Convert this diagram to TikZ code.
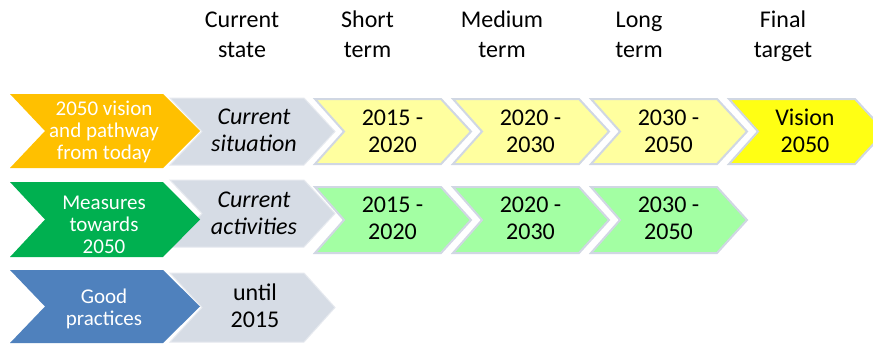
\documentclass[tikz,border=0pt]{standalone}
\usepackage{fontspec}
\setmainfont{Carlito}
\definecolor{chorange}{HTML}{FFC000}
\definecolor{chgreen}{HTML}{00B050}
\definecolor{chblue}{HTML}{4F81BD}
\definecolor{chgray}{HTML}{D6DCE5}
\definecolor{chgrayline}{HTML}{E6E9EF}
\definecolor{chborder}{HTML}{D0D7E3}
\definecolor{chlyellow}{HTML}{FFFF9F}
\definecolor{chlgreen}{HTML}{A3FFA3}
\definecolor{chvision}{HTML}{FFFF14}
\tikzset{
  every node/.style={inner sep=0pt, outer sep=0pt},
  hdr/.style={font=\fontsize{24}{30}\selectfont, align=center, text=black},
  lbl/.style={font=\fontsize{24}{27}\selectfont, align=center, text=black},
  lbli/.style={font=\fontsize{24}{27}\selectfont\itshape, align=center, text=black},
  lft/.style={font=\fontsize{21}{22}\selectfont, align=center, text=white},
  graych/.style={fill=chgray, draw=chgrayline, line width=1pt},
  leftch/.style={fill=#1, draw=none},
  colch/.style={fill=#1, draw=chborder, line width=2pt, line join=miter},
}
% #1 style, #2 x left, #3 y top, #4 y bottom, #5 width to top-right, #6 tip depth, #7 notch depth
\newcommand\chev[7]{%
  \path[#1] (#2,#3) -- ({#2+#5},#3) -- ({#2+#5+#6},{(#3+#4)/2}) -- ({#2+#5},#4)
    -- (#2,#4) -- ({#2+#7},{(#3+#4)/2}) -- cycle;}
\begin{document}
\begin{tikzpicture}[x=1pt, y=-1pt]
\clip (0,0) rectangle (873,345);
\fill[white] (0,0) rectangle (873,345);

% headers
\node[hdr] (hcur) at (242,37) {\strut Current\\\strut state};
\node[hdr] (hshort) at (367.5,37) {\strut Short\\\strut term};
\node[hdr] (hmed) at (502,37) {\strut Medium\\\strut term};
\node[hdr] (hlong) at (639,37) {\strut Long\\\strut term};
\node[hdr] (hfinal) at (783,37) {\strut Final\\\strut target};

% row 1
\chev{graych}{170}{98}{165}{134}{31}{32}
\chev{leftch=chorange}{10}{94}{168}{153}{37}{35}
\chev{colch=chlyellow}{315}{99}{164}{126}{30}{29}
\chev{colch=chlyellow}{453}{99}{164}{126}{30}{29}
\chev{colch=chlyellow}{591}{99}{164}{126}{30}{29}
\chev{colch=chvision}{729}{99}{164}{126}{30}{29}
\node[lft] (l1) at (104,132.6) {\strut 2050 vision\\\strut and pathway\\\strut from today};
\node[lbli] (g1) at (254,133) {\strut Current\\\strut situation};
\node[lbl] (y1) at (392.5,133.1) {\strut 2015 -\\\strut 2020};
\node[lbl] (y2) at (530.5,133.1) {\strut 2020 -\\\strut 2030};
\node[lbl] (y3) at (668.5,133.1) {\strut 2030 -\\\strut 2050};
\node[lbl] (y4) at (805,133.1) {\strut Vision\\\strut 2050};

% row 2
\chev{graych}{170}{180}{247}{134}{31}{32}
\chev{leftch=chgreen}{10}{182}{257}{153}{37}{35}
\chev{colch=chlgreen}{315}{187}{253}{126}{30}{29}
\chev{colch=chlgreen}{453}{187}{253}{126}{30}{29}
\chev{colch=chlgreen}{591}{187}{253}{126}{30}{29}
\node[lft] (l2) at (104,226.6) {\strut Measures\\\strut towards\\\strut 2050};
\node[lbli] (g2) at (254,216) {\strut Current\\\strut activities};
\node[lbl] (m1) at (392.5,221) {\strut 2015 -\\\strut 2020};
\node[lbl] (m2) at (530.5,221) {\strut 2020 -\\\strut 2030};
\node[lbl] (m3) at (668.5,221) {\strut 2030 -\\\strut 2050};

% row 3
\chev{graych}{170}{273}{342}{134}{31}{32}
\chev{leftch=chblue}{10}{270}{343}{153}{37}{35}
\node[lft] (l3) at (104,309.6) {\strut Good\\\strut practices};
\node[lbl] (g3) at (255,309) {\strut until\\\strut 2015};
\end{tikzpicture}
\end{document}
